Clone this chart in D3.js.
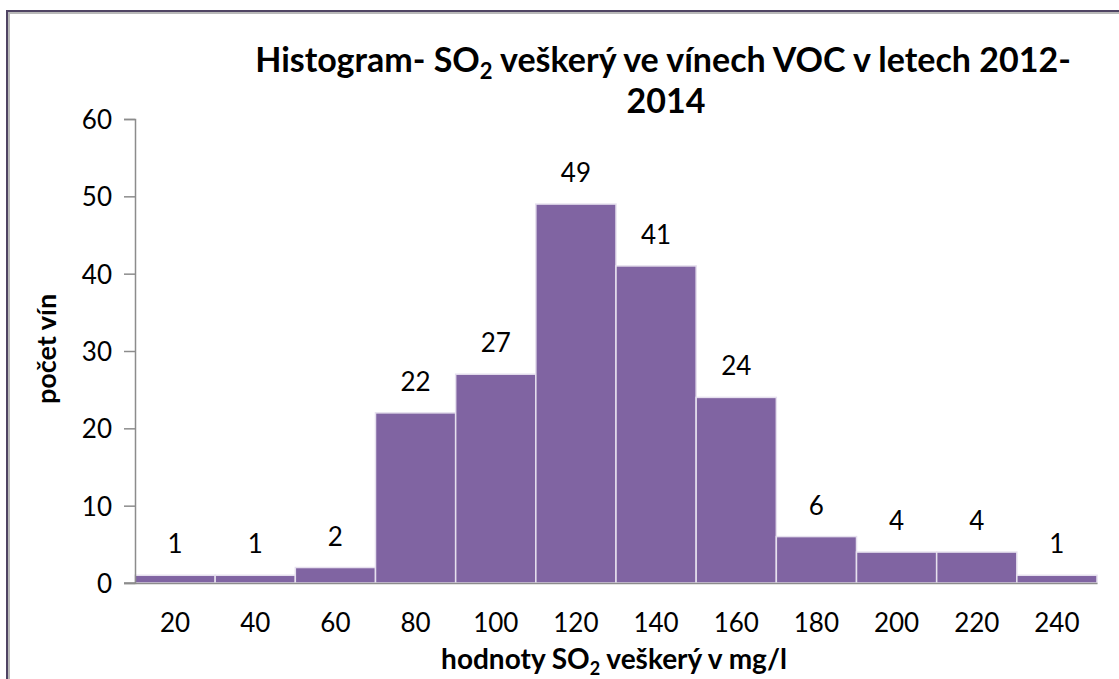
<!DOCTYPE html>
<html>
<head>
<meta charset="utf-8">
<script src="https://d3js.org/d3.v7.min.js"></script>
<style>
  body { margin: 0; background: #fff; }
  text { font-family: Lato, "Open Sans", sans-serif; fill: #000; }
</style>
</head>
<body>
<div id="chart"></div>
<script>
// histogram classes (bin centers) and counts
const categories = ["20", "40", "60", "80", "100", "120", "140", "160", "180", "200", "220", "240"];
const counts = [1, 1, 2, 22, 27, 49, 41, 24, 6, 4, 4, 1];
const yTicks = [0, 10, 20, 30, 40, 50, 60];

const width = 1119, height = 679;
const margin = { left: 135, right: 22, top: 119, bottom: 96 };

const svg = d3.select('#chart').append('svg')
    .attr('width', width)
    .attr('height', height);

// chart frame (excel style border, runs off the right and bottom)
svg.append('rect')
    .attr('x', 9).attr('y', 13)
    .attr('width', width + 20).attr('height', height + 20)
    .attr('fill', 'none')
    .attr('stroke', '#b9b9b9')
    .attr('stroke-width', 2);
svg.append('rect')
    .attr('x', 7).attr('y', 11)
    .attr('width', width + 20).attr('height', height + 20)
    .attr('fill', 'none')
    .attr('stroke', '#4f4463')
    .attr('stroke-width', 2);

const x = d3.scaleBand()
    .domain(categories)
    .range([margin.left, width - margin.right])
    .padding(0);

const y = d3.scaleLinear()
    .domain([0, 60])
    .range([height - margin.bottom, margin.top]);

// bars
svg.selectAll('rect.bar')
    .data(counts)
    .enter()
    .append('rect')
    .attr('class', 'bar')
    .attr('x', (d, i) => x(categories[i]))
    .attr('y', d => y(d))
    .attr('width', x.bandwidth())
    .attr('height', d => y(0) - y(d))
    .attr('fill', '#8064a2')
    .attr('stroke', '#e6e0ee')
    .attr('stroke-width', 1.5);

// data labels
svg.selectAll('text.lbl')
    .data(counts)
    .enter()
    .append('text')
    .attr('class', 'lbl')
    .attr('x', (d, i) => x(categories[i]) + x.bandwidth() / 2)
    .attr('y', d => y(d) - 22)
    .attr('text-anchor', 'middle')
    .style('font-size', '26px')
    .text(d => d);

// y axis
const yAxis = svg.append('g')
    .attr('transform', `translate(${margin.left},0)`)
    .call(d3.axisLeft(y).tickValues(yTicks).tickSize(11).tickPadding(12));
yAxis.selectAll('text').style('font-size', '26px').attr('dy', '0.36em');

// x axis
const xAxis = svg.append('g')
    .attr('transform', `translate(0,${y(0)})`)
    .call(d3.axisBottom(x).tickSize(0).tickPadding(31).tickSizeOuter(0));
xAxis.selectAll('text').style('font-size', '26px');

svg.selectAll('.domain, .tick line').attr('stroke', '#8c8c8c').attr('stroke-width', 1.5);
// x axis line reaches the 0 tick on the left
svg.append('line')
    .attr('x1', margin.left - 11).attr('x2', margin.left)
    .attr('y1', y(0)).attr('y2', y(0))
    .attr('stroke', '#8c8c8c').attr('stroke-width', 1.5);

// title
const title = svg.append('text')
    .attr('x', 663).attr('y', 72)
    .attr('text-anchor', 'middle')
    .style('font-size', '34px')
    .style('font-weight', 'bold');
title.append('tspan').text('Histogram- SO');
title.append('tspan').attr('dy', 7).style('font-size', '22px').text('2');
title.append('tspan').attr('dy', -7).text(' veškerý ve vínech VOC v letech 2012-');
svg.append('text')
    .attr('x', 666).attr('y', 113)
    .attr('text-anchor', 'middle')
    .style('font-size', '34px')
    .style('font-weight', 'bold')
    .text('2014');

// axis titles
const xTitle = svg.append('text')
    .attr('x', 614).attr('y', 669)
    .attr('text-anchor', 'middle')
    .style('font-size', '28px')
    .style('font-weight', 'bold');
xTitle.append('tspan').text('hodnoty SO');
xTitle.append('tspan').attr('dy', 6).style('font-size', '18px').text('2');
xTitle.append('tspan').attr('dy', -6).text(' veškerý v mg/l');

svg.append('text')
    .attr('transform', 'translate(56,349) rotate(-90)')
    .attr('text-anchor', 'middle')
    .style('font-size', '27px')
    .style('font-weight', 'bold')
    .text('počet vín');
</script>
</body>
</html>
